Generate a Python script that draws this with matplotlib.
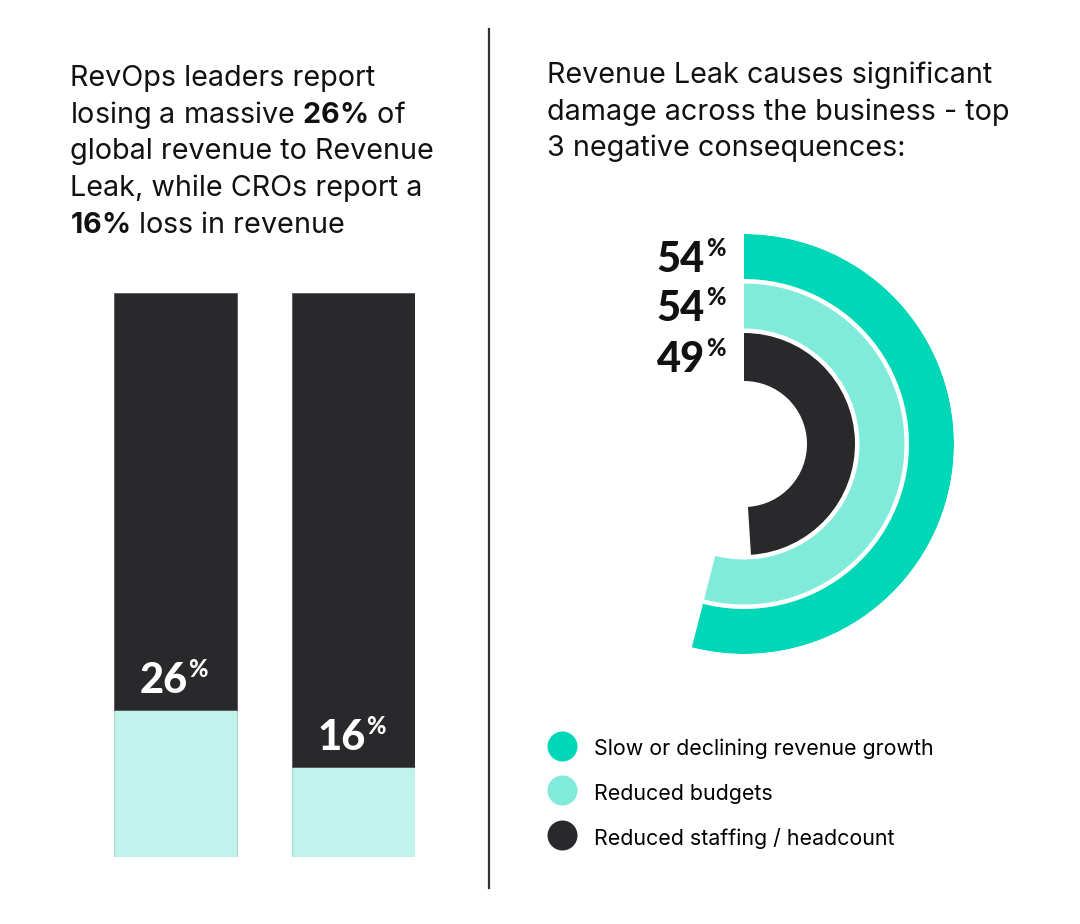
import numpy as np
import matplotlib
matplotlib.use("Agg")
import matplotlib.pyplot as plt
from matplotlib.lines import Line2D

plt.rcParams["font.family"] = ["Inter", "DejaVu Sans"]
plt.rcParams["mathtext.fontset"] = "custom"
plt.rcParams["mathtext.rm"] = "Inter"
plt.rcParams["mathtext.bf"] = "Inter:bold"

# left panel: share of revenue lost to Revenue Leak
BAR_GROUPS = ["RevOps leaders", "CROs"]
BAR_LOSS = [26, 16]

# right panel: top 3 negative consequences
CONSEQUENCES = ["Slow or declining revenue growth", "Reduced budgets", "Reduced staffing / headcount"]
CONSEQ_PCT = [54, 54, 49]

LEFT_TITLE = [
    "RevOps leaders report",
    r"losing a massive $\mathbf{26\%}$ of",
    "global revenue to Revenue",
    "Leak, while CROs report a",
    r"$\mathbf{16\%}$ loss in revenue",
]
RIGHT_TITLE = [
    "Revenue Leak causes significant",
    "damage across the business - top",
    "3 negative consequences:",
]

DARK = "#29292b"
PALE = "#c0f3eb"
RING_COLORS = ["#00d7b7", "#80ebdb", DARK]
NUM_FONT = ["Lato", "DejaVu Sans"]

W, H = 1080, 924
fig = plt.figure(figsize=(W / 100, H / 100), dpi=100)


def fx(px):
    return px / W


def fy(py):
    return 1 - py / H


# titles
for i, line in enumerate(LEFT_TITLE):
    fig.text(fx(70), fy(86 + i * 36.7), line, fontsize=20.7, color="#111111", va="baseline")
for i, line in enumerate(RIGHT_TITLE):
    fig.text(fx(547), fy(83 + i * 36.7), line, fontsize=20.7, color="#111111", va="baseline")

# divider
fig.add_artist(Line2D([fx(489), fx(489)], [fy(29), fy(888)], transform=fig.transFigure,
                      color="#333333", linewidth=1.6))

# stacked bars
ax = fig.add_axes([fx(114), fy(857), fx(415) - fx(114), fy(293) - fy(857)])
x = np.arange(len(BAR_GROUPS))
loss = np.array(BAR_LOSS)
ax.bar(x, loss, width=0.69, color=PALE, edgecolor="#a8d8d0", linewidth=0.8)
ax.bar(x, 100 - loss, bottom=loss, width=0.69, color=DARK, edgecolor="#555555", linewidth=0.6)
ax.set_xlim(-0.345, 1.345)
ax.set_ylim(0, 100)
ax.axis("off")
for i, v in enumerate(BAR_LOSS):
    ax.annotate(f"{v}", xy=(i, v), xytext=(12, 17), textcoords="offset pixels",
                ha="right", va="baseline", fontsize=30, fontweight="black", color="white",
                family=NUM_FONT)
    ax.annotate("%", xy=(i, v), xytext=(13, 33), textcoords="offset pixels",
                ha="left", va="baseline", fontsize=17, fontweight="black", color="white",
                family=NUM_FONT)

# radial bars
pax = fig.add_axes([fx(534), fy(654), fx(954) - fx(534), fy(234) - fy(654)], projection="polar")
pax.set_theta_zero_location("N")
pax.set_theta_direction(-1)
outer = 210
for i, (pct, color) in enumerate(zip(CONSEQ_PCT, RING_COLORS)):
    r_out = outer - i * 49.5
    r_in = r_out - 45 if i < 2 else 63
    pax.bar(0, r_out - r_in, width=pct / 100 * 2 * np.pi, bottom=r_in, align="edge",
            color=color, linewidth=0)
    mid = (r_out + r_in) / 2
    pax.annotate(f"{pct}", xy=(0, mid), xytext=(-39, -15), textcoords="offset pixels",
                 ha="right", va="baseline", fontsize=30, fontweight="black", color="#111111",
                 family=NUM_FONT)
    pax.annotate("%", xy=(0, mid), xytext=(-38, 1), textcoords="offset pixels",
                 ha="left", va="baseline", fontsize=17, fontweight="black", color="#111111",
                 family=NUM_FONT)
pax.set_ylim(0, outer)
pax.set_axis_off()

# legend
handles = [Line2D([], [], marker="o", linestyle="", markersize=21.6, markerfacecolor=c,
                  markeredgewidth=0) for c in RING_COLORS]
fig.legend(handles, CONSEQUENCES, loc="upper left", bbox_to_anchor=(fx(547), fy(736)),
           frameon=False, fontsize=15.4, handlelength=1.4, handleheight=1.4,
           handletextpad=0.8, labelspacing=0.93, borderpad=0, borderaxespad=0)

fig.savefig("out.png", dpi=100, facecolor="white")
